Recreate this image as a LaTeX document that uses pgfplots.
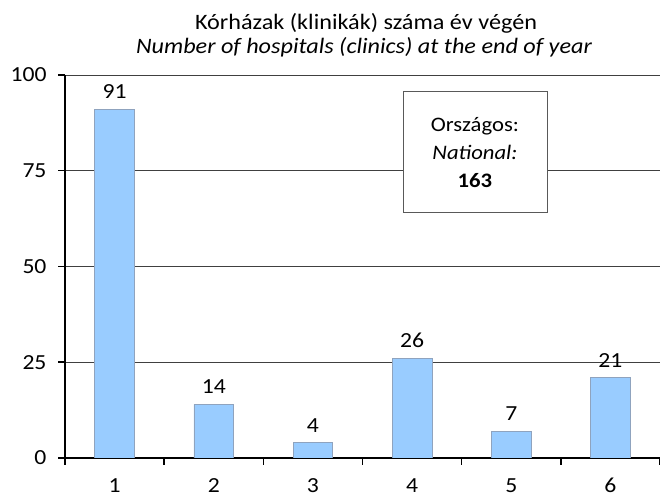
\documentclass[border=0pt]{standalone}
\usepackage{pgfplots}
\pgfplotsset{compat=1.18}
\usepackage{fontspec}
\setmainfont{Carlito}[FakeStretch=1.1]
\definecolor{barfill}{RGB}{153,204,255}
\definecolor{baredge}{RGB}{143,163,190}
\definecolor{gridc}{RGB}{64,64,64}
\begin{document}
\begin{tikzpicture}[x=1bp,y=1bp]
\useasboundingbox (0,0) rectangle (660,499);
\begin{axis}[
  at={(65bp,41bp)}, anchor=south west,
  scale only axis, width=595bp, height=383bp,
  xmin=0.5, xmax=6.5, ymin=0, ymax=100,
  axis x line*=bottom, axis y line*=left,
  axis line style={-, line width=2bp, black},
  ytick={0,25,50,75,100},
  xtick={0.5,1.5,2.5,3.5,4.5,5.5,6.5},
  xticklabels={,,,,,,},
  extra x ticks={1,2,3,4,5,6},
  extra x tick labels={1,2,3,4,5,6},
  extra x tick style={major tick length=0pt},
  tick align=outside, major tick length=7bp,
  tick style={line width=1.5bp, black},
  ymajorgrids, grid style={gridc, line width=0.8bp},
  /pgf/number format/assume math mode=true,
  ticklabel style={font=\fontsize{21.5bp}{24bp}\selectfont},
  yticklabel style={xshift=-8bp},
  xticklabel style={anchor=base, yshift=-35bp},
]
\addplot[ybar, bar width=0.4, fill=barfill, draw=baredge, line width=0.8bp,
  nodes near coords,
  every node near coord/.append style={font=\fontsize{21.5bp}{24bp}\selectfont, anchor=base, yshift=10.5bp, inner sep=0pt}]
  coordinates {(1,91) (2,14) (3,4) (4,26) (5,7) (6,21)};
\node[draw=gray!70!black, fill=white, line width=0.8bp, minimum width=144bp,
  minimum height=121bp, align=center, inner sep=0pt,
  font=\fontsize{20.6bp}{28bp}\selectfont] at (axis cs:4.634,79.8)
  {Országos:\\\textit{National:}\\\textbf{163}};
\end{axis}
\node[anchor=base, font=\fontsize{22bp}{26bp}\selectfont] at (366,469) {Kórházak (klinikák) száma év végén};
\node[anchor=base, font=\fontsize{22bp}{26bp}\selectfont\itshape] at (364,445) {Number of hospitals (clinics) at the end of year};
\end{tikzpicture}
\end{document}
